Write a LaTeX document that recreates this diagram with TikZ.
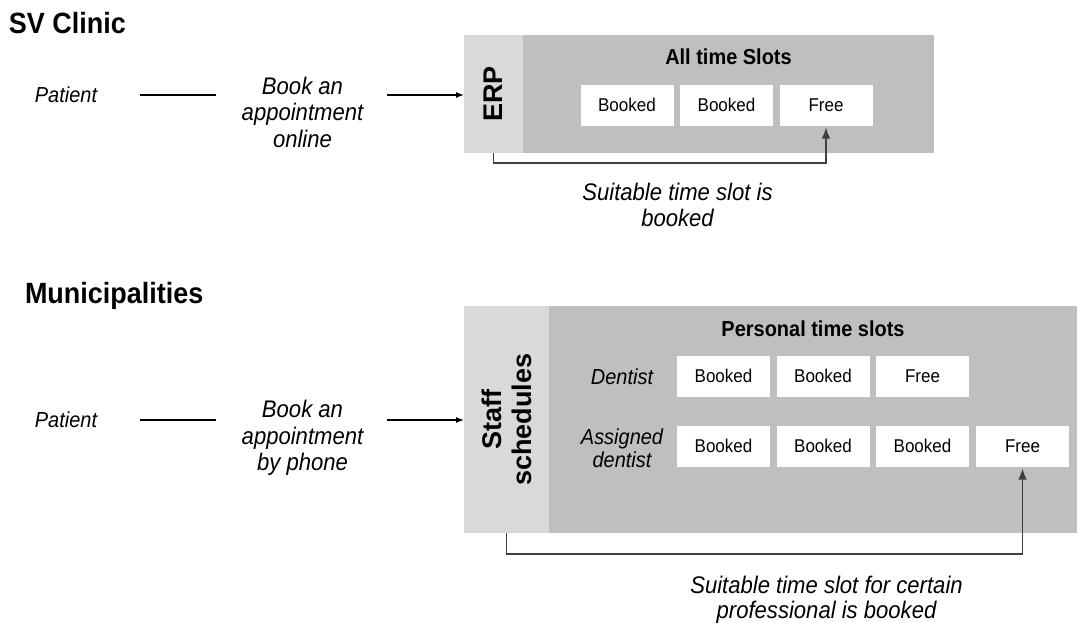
\documentclass[tikz,border=0pt]{standalone}
\usepackage{fontspec}
\setmainfont{Liberation Sans}[FakeStretch=0.92]
\newfontfamily\uprightsans{Liberation Sans}
\usetikzlibrary{arrows.meta}
\definecolor{panelgray}{HTML}{BFBFBF}
\definecolor{sidegray}{HTML}{D9D9D9}
\definecolor{linegray}{HTML}{404040}
\newcommand\fsz[2]{\fontsize{#1}{#2}\selectfont}

\begin{document}
\begin{tikzpicture}[x=1pt,y=-1pt,
  every node/.style={inner sep=0pt, outer sep=0pt},
  heading/.style={font=\fsz{29.3}{32}\bfseries, anchor=base west},
  actor/.style={font=\fsz{21.7}{24}\itshape},
  action/.style={font=\fsz{24}{26.5}\itshape, align=center},
  caption/.style={font=\fsz{24}{25.5}\itshape, align=center},
  side/.style={fill=sidegray, rotate=90, font=\uprightsans\fsz{27}{30}\bfseries, align=center},
  panel/.style={fill=panelgray, anchor=north west},
  panelhead/.style={font=\fsz{21.7}{24}\bfseries},
  slot/.style={fill=white, minimum width=93pt, minimum height=41pt,
    font=\fsz{18.5}{20}, text height=13.5pt, text depth=0pt},
  role/.style={font=\fsz{21.7}{22.5}\itshape, align=center},
  link/.style={line width=1.2pt, black},
  arrowlink/.style={link, -{Latex[length=8pt,width=6pt]}},
  bracket/.style={line width=1.3pt, linegray, -{Latex[length=11pt,width=8.5pt]}, shorten >=2pt},
]
\useasboundingbox (0,0) rectangle (1078,622);

% ---------- SV Clinic ----------
\node[heading] (clinic) at (9,33) {SV Clinic};

\node[panel, minimum width=411pt, minimum height=118pt] (slots1) at (523,35) {};
\node[side, minimum width=118pt, minimum height=59pt] (erp) at (493.5,94) {ERP};
\node[panelhead] (hd1) at (728.5,57) {All time Slots};
\node[slot] (t1) at (627,105) {Booked};
\node[slot] (t2) at (726.5,105) {Booked};
\node[slot] (t3) at (826,105) {Free};

\node[actor] (pat1) at (66,95) {Patient};
\node[action] (book1) at (302.5,112) {Book an\\appointment\\online};
\draw[link, shorten <=43pt, shorten >=26pt] (pat1.east) -- (pat1.east -| book1.west);
\draw[arrowlink, shorten <=24pt] (pat1.east -| book1.east) -- (pat1.east -| erp.north);

\draw[bracket] (erp.west) -- ++(0,10) -| (t3.south);
\node[caption] (cap1) at (677.5,205) {Suitable time slot is\\booked};

% ---------- Municipalities ----------
\node[heading] (muni) at (25,303) {Municipalities};

\node[panel, minimum width=528pt, minimum height=227pt] (slots2) at (549,306) {};
\node[side, minimum width=227pt, minimum height=85pt] (staff) at (506.5,419.5) {Staff\\schedules};
\node[panelhead] (hd2) at (813,329) {Personal time slots};

\node[role] (dent) at (622,377) {Dentist};
\node[slot] (d1) at (723.5,376) {Booked};
\node[slot] (d2) at (823,376) {Booked};
\node[slot] (d3) at (922.5,376) {Free};

\node[role] (asg) at (622,448) {Assigned\\dentist};
\node[slot] (a1) at (723.5,446) {Booked};
\node[slot] (a2) at (823,446) {Booked};
\node[slot] (a3) at (922.5,446) {Booked};
\node[slot] (a4) at (1022.5,446) {Free};

\node[actor] (pat2) at (66,420) {Patient};
\node[action] (book2) at (302.5,438) {Book an\\appointment\\by phone};
\draw[link, shorten <=43pt, shorten >=26pt] (pat2.east) -- (pat2.east -| book2.west);
\draw[arrowlink, shorten <=24pt] (pat2.east -| book2.east) -- (pat2.east -| staff.north);

\draw[bracket] (staff.west) -- ++(0,21) -| (a4.south);
\node[caption] (cap2) at (826.5,600) {Suitable time slot for certain\\professional is booked};
\end{tikzpicture}
\end{document}
